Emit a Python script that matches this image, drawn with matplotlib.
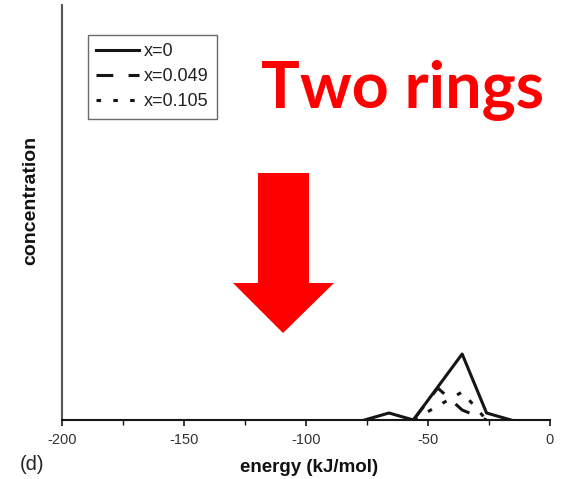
import matplotlib
matplotlib.use("Agg")
import matplotlib.pyplot as plt
from matplotlib.patches import Polygon

plt.rcParams["font.family"] = ["Liberation Sans", "DejaVu Sans"]

energy = [-76, -66, -56, -46, -36, -26, -16]
conc_x0 = [0.0, 0.07, 0.0, 0.33, 0.66, 0.07, 0.0]
energy_b = [-56, -46, -36, -26]
conc_x049 = [0.0, 0.32, 0.10, 0.0]
conc_x105 = [0.0, 0.14, 0.28, 0.0]
labels = ["x=0", "x=0.049", "x=0.105"]
xticks = [-200, -150, -100, -50, 0]
minor_ticks = [-175, -125, -75, -25]

W, H = 561, 479
fig = plt.figure(figsize=(W / 100, H / 100), dpi=100)
ax = fig.add_axes([62 / W, (H - 420) / H, (550 - 62) / W, (420 - 5) / H])

c = "#151515"
ax.plot(energy, conc_x0, color=c, lw=2.2, label=labels[0])
ax.plot(energy_b, conc_x049, color=c, lw=2.2, ls=(0, (5.5, 5)), label=labels[1])
ax.plot(energy_b, conc_x105, color=c, lw=2.2, ls=(0, (1.5, 4)), label=labels[2])

ax.set_xlim(-200, 0)
ax.set_ylim(0, 4.15)
ax.set_xticks(xticks)
ax.set_xticks(minor_ticks, minor=True)
ax.set_xticklabels([str(t) for t in xticks], fontsize=10.5, color="#333")
ax.set_yticks([])
ax.tick_params(axis="x", which="major", length=4.5, width=1.2, color=c, pad=5)
ax.tick_params(axis="x", which="minor", length=3.5, width=1.0, color=c)
for s in ["top", "right"]:
    ax.spines[s].set_visible(False)
ax.spines["left"].set_linewidth(1.5)
ax.spines["bottom"].set_linewidth(1.5)
ax.spines["left"].set_color("#555")
ax.spines["bottom"].set_color(c)

fig.text(309 / W, 1 - 468 / H, "energy (kJ/mol)", fontsize=13.5, fontweight="bold",
         ha="center", va="center", color="#111")
fig.text(31 / W, 1 - 200 / H, "concentration", fontsize=14, fontweight="bold",
         rotation=90, ha="center", va="center", color="#111")

leg = ax.legend(loc="upper left", bbox_to_anchor=(26 / 488, 1 - 30 / 415),
                fontsize=13, frameon=True, fancybox=False, handlelength=2.4,
                handletextpad=0.25, borderpad=0.45, labelspacing=0.45,
                edgecolor="#444", borderaxespad=0)
leg.get_frame().set_linewidth(1.0)
for t in leg.get_texts():
    t.set_color("#222")

fig.text(20 / W, 1 - 465 / H, "(d)", fontsize=14.5, va="center", ha="left", color="#222")

fig.text(403 / W, 1 - 108 / H, "Two rings", fontsize=46.5, fontweight="bold",
         color="#ff0000", ha="center", va="baseline", family="Lato")

pts = [(258, 173), (309, 173), (309, 283), (334, 283), (283, 333),
       (233, 283), (258, 283)]
arrow = Polygon([(x / W, 1 - y / H) for x, y in pts], closed=True,
                transform=fig.transFigure, facecolor="#ff0000", edgecolor="none")
fig.patches.append(arrow)

fig.savefig("out.png", dpi=100)
